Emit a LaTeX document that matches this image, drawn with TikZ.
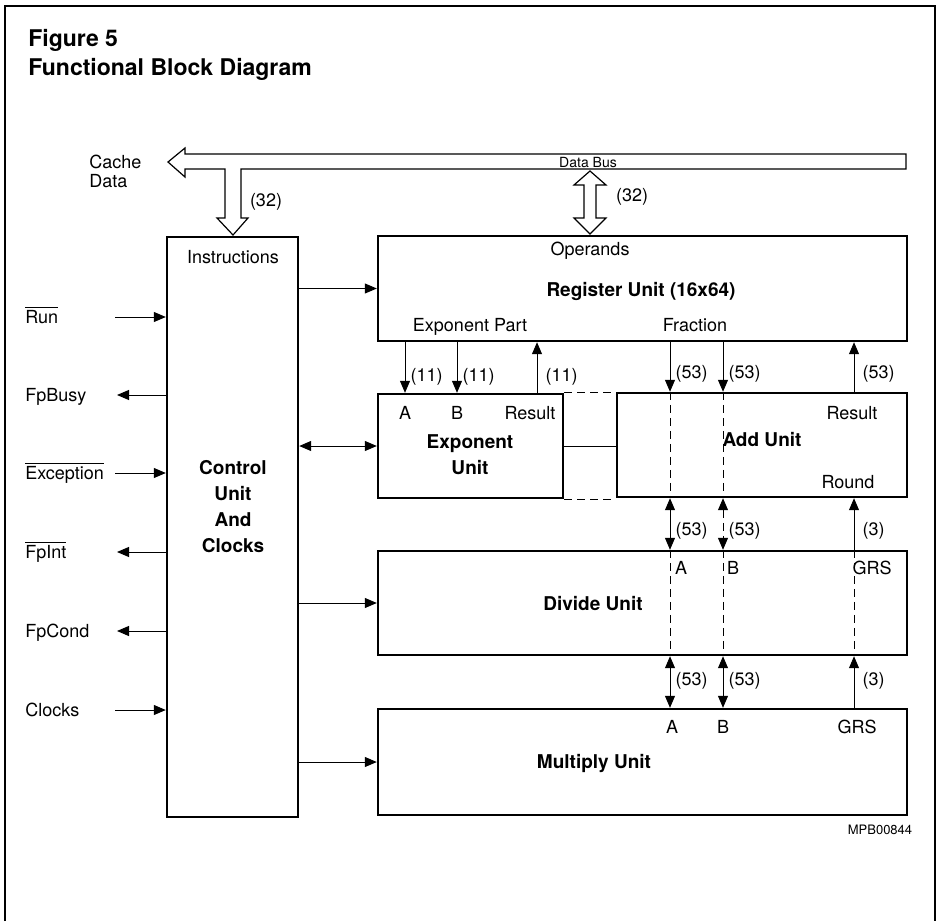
\documentclass[tikz,border=0pt]{standalone}
\usepackage{fontspec}
\setmainfont{TeX Gyre Heros}
\usetikzlibrary{arrows.meta}
\newcommand{\barsig}[1]{$\overline{\mbox{#1}}$}
\begin{document}
\begin{tikzpicture}[x=0.5pt,y=-0.5pt,>={Triangle[length=6pt,width=5pt]},
    unitbox/.style={draw,line width=1.2pt,inner sep=0pt},
    lbl/.style={font=\fontsize{9}{11}\selectfont,inner sep=0pt,text height=6.5pt,text depth=0pt},
    unitname/.style={font=\fontsize{9.5}{13}\selectfont\bfseries,align=center,inner sep=0pt},
    sig/.style={->,line width=0.5pt},
    bus/.style={draw,line width=0.6pt}]
    \useasboundingbox (0,0) rectangle (941,921);
    % frame and title
    \draw[line width=0.6pt] (5,921) -- (5,6) -- (935,6) -- (935,921);
    \node[anchor=base west,inner sep=0pt,font=\fontsize{11.5}{13}\selectfont\bfseries] (fig) at (28,46) {Figure 5};
    \node[anchor=base west,inner sep=0pt,font=\fontsize{11.5}{13}\selectfont\bfseries] (title) at (28,75) {Functional Block Diagram};
    % blocks
    \node[unitbox,minimum width=65.5pt,minimum height=290pt] (ctrl) at (232.5,527) {};
    \node[unitbox,minimum width=264.5pt,minimum height=52.5pt] (reg) at (642.5,288.5) {};
    \node[unitbox,minimum width=92.5pt,minimum height=52pt] (exp) at (470.5,446) {};
    \node[unitbox,minimum width=145pt,minimum height=52pt] (add) at (762,445) {};
    \node[unitbox,minimum width=264.5pt,minimum height=52pt] (div) at (642.5,603) {};
    \node[unitbox,minimum width=264.5pt,minimum height=53pt] (mul) at (642.5,762) {};
    \node[unitname] (ctrlname) at (233,507) {Control\\Unit\\And\\Clocks};
    \node[unitname] (regname) at (641,291) {Register Unit (16x64)};
    \node[unitname] (expname) at (470,455) {Exponent\\Unit};
    \node[unitname] (addname) at (762,440) {Add Unit};
    \node[unitname] (divname) at (593,604) {Divide Unit};
    \node[unitname] (mulname) at (594,763) {Multiply Unit};
    % port labels
    \node[lbl] (instr) at (233,257) {Instructions};
    \node[lbl] (opnd) at (590,249) {Operands};
    \node[lbl] (expart) at (470,325) {Exponent Part};
    \node[lbl] (frac) at (695,325) {Fraction};
    \node[lbl] (expa) at (405,413) {A};
    \node[lbl] (expb) at (457,413) {B};
    \node[lbl] (expres) at (530,413) {Result};
    \node[lbl] (addres) at (852,413) {Result};
    \node[lbl] (addrnd) at (848,482) {Round};
    \node[lbl] (diva) at (681,568) {A};
    \node[lbl] (divb) at (733,568) {B};
    \node[lbl] (divgrs) at (872,568) {GRS};
    \node[lbl] (mula) at (672,727) {A};
    \node[lbl] (mulb) at (723,727) {B};
    \node[lbl] (mulgrs) at (857,727) {GRS};
    % data bus
    \draw[bus] (168,162) -- (185,148) -- (185,154) -- (906,154) -- (906,169) -- (241,169)
      -- (241,218) -- (248,218) -- (233,235) -- (217,218) -- (225,218) -- (225,169)
      -- (185,169) -- (185,177) -- cycle;
    \draw[bus] (590,171) -- (606,185) -- (596,185) -- (596,218) -- (606,218) -- (590,234)
      -- (574,218) -- (584,218) -- (584,185) -- (574,185) -- cycle;
    \node[inner sep=0pt,font=\fontsize{7}{8}\selectfont] (dbus) at (588,162) {Data Bus};
    \node[anchor=west,align=left,inner sep=0pt,font=\fontsize{9}{9.5}\selectfont] (cache) at (89,171) {Cache\\Data};
    \node[lbl] (w32a) at (266,200) {(32)};
    \node[lbl] (w32b) at (632,195) {(32)};
    \node[inner sep=0pt,font=\fontsize{6.5}{8}\selectfont] (mpb) at (880,830) {MPB00844};
    % external signals
    \node[lbl,anchor=west] (run) at (25,317) {\barsig{Run}};
    \node[lbl,anchor=west] (busy) at (25,395) {FpBusy};
    \node[lbl,anchor=west] (excp) at (25,473) {\barsig{Exception}};
    \node[lbl,anchor=west] (fpint) at (25,552) {\barsig{FpInt}};
    \node[lbl,anchor=west] (cond) at (25,631) {FpCond};
    \node[lbl,anchor=west] (clk) at (25,710) {Clocks};
    \coordinate (runend) at (115,317);
    \coordinate (busyend) at (117,395);
    \coordinate (excpend) at (115,473);
    \coordinate (fpintend) at (117,552);
    \coordinate (condend) at (117,631);
    \coordinate (clkend) at (115,710);
    \draw[sig] (runend) -- (ctrl.west |- runend);
    \draw[sig] (ctrl.west |- busyend) -- (busyend);
    \draw[sig] (excpend) -- (ctrl.west |- excpend);
    \draw[sig] (ctrl.west |- fpintend) -- (fpintend);
    \draw[sig] (ctrl.west |- condend) -- (condend);
    \draw[sig] (clkend) -- (ctrl.west |- clkend);
    % control lines
    \draw[sig] (ctrl.east |- reg.west) -- (reg.west);
    \draw[sig,<->] (ctrl.east |- exp.west) -- (exp.west);
    \draw[sig] (ctrl.east |- div.west) -- (div.west);
    \draw[sig] (ctrl.east |- mul.west) -- (mul.west);
    % exponent paths
    \coordinate (ea) at (405,0);
    \coordinate (eb) at (457,0);
    \coordinate (er) at (537,0);
    \draw[sig] (reg.south -| ea) -- node[lbl,anchor=west,pos=0.64,xshift=2.5pt] (w11a) {(11)} (exp.north -| ea);
    \draw[sig] (reg.south -| eb) -- node[lbl,anchor=west,pos=0.64,xshift=2.5pt] (w11b) {(11)} (exp.north -| eb);
    \draw[sig] (exp.north -| er) -- node[lbl,anchor=west,pos=0.36,xshift=4pt] (w11r) {(11)} (reg.south -| er);
    \draw (exp.east) -- (exp.east -| add.west);
    \draw[dashed,dash pattern=on 4pt off 2.5pt] (exp.north east) -- (exp.north east -| add.west);
    \draw[dashed,dash pattern=on 4pt off 2.5pt] (exp.south east) -- (exp.south east -| add.west);
    % fraction paths
    \coordinate (ca) at (670,0);
    \coordinate (cb) at (723,0);
    \coordinate (cg) at (854,0);
    \draw[sig] (reg.south -| ca) -- node[lbl,anchor=west,pos=0.6,xshift=2.5pt] (w53a) {(53)} (add.north -| ca);
    \draw[sig] (reg.south -| cb) -- node[lbl,anchor=west,pos=0.6,xshift=2.5pt] (w53b) {(53)} (add.north -| cb);
    \draw[sig] (add.north -| cg) -- node[lbl,anchor=west,pos=0.4,xshift=4pt] (w53r) {(53)} (reg.south -| cg);
    \draw[sig,<->] (add.south -| ca) -- node[lbl,anchor=west,pos=0.6,xshift=2.5pt] (w53c) {(53)} (div.north -| ca);
    \draw[sig,<->,dashed,dash pattern=on 4pt off 2.5pt] (add.south -| cb) -- node[lbl,anchor=west,pos=0.6,xshift=2.5pt] (w53d) {(53)} (div.north -| cb);
    \draw[sig] (div.north -| cg) -- node[lbl,anchor=west,pos=0.4,xshift=4pt] (w3a) {(3)} (add.south -| cg);
    \draw[sig,<->] (div.south -| ca) -- node[lbl,anchor=west,pos=0.45,xshift=2.5pt] (w53e) {(53)} (mul.north -| ca);
    \draw[sig,<->] (div.south -| cb) -- node[lbl,anchor=west,pos=0.45,xshift=2.5pt] (w53f) {(53)} (mul.north -| cb);
    \draw[sig] (mul.north -| cg) -- node[lbl,anchor=west,pos=0.55,xshift=4pt] (w3b) {(3)} (div.south -| cg);
    % pass-through lines
    \draw[dashed,dash pattern=on 4pt off 2.5pt,line width=0.4pt] (add.north -| ca) -- (add.south -| ca);
    \draw[dashed,dash pattern=on 4pt off 2.5pt,line width=0.4pt] (add.north -| cb) -- (add.south -| cb);
    \draw[dashed,dash pattern=on 4pt off 2.5pt,line width=0.4pt] (div.north -| ca) -- (div.south -| ca);
    \draw[dashed,dash pattern=on 4pt off 2.5pt,line width=0.4pt] (div.north -| cb) -- (div.south -| cb);
    \draw[dashed,dash pattern=on 4pt off 2.5pt,line width=0.4pt] (div.north -| cg) -- (div.south -| cg);
\end{tikzpicture}
\end{document}
